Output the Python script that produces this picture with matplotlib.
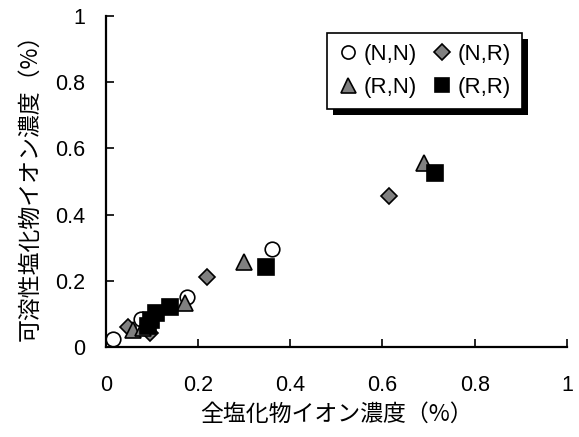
import matplotlib
matplotlib.use("Agg")
import matplotlib.pyplot as plt
from matplotlib.patches import Rectangle

plt.rcParams['font.family'] = ['Liberation Sans', 'Noto Sans CJK JP', 'DejaVu Sans']

# total chloride (x) vs. soluble chloride (y), % by mass
nn_x = [0.015, 0.075, 0.175, 0.36]
nn_y = [0.025, 0.085, 0.150, 0.295]

nr_x = [0.048, 0.095, 0.220, 0.615]
nr_y = [0.060, 0.042, 0.212, 0.455]

rn_x = [0.059, 0.080, 0.171, 0.300, 0.690]
rn_y = [0.051, 0.057, 0.133, 0.257, 0.556]

rr_x = [0.091, 0.098, 0.108, 0.138, 0.347, 0.714]
rr_y = [0.063, 0.082, 0.103, 0.121, 0.242, 0.526]

labels = ['(N,N)', '(N,R)', '(R,N)', '(R,R)']
ticks = [0, 0.2, 0.4, 0.6, 0.8, 1]
tick_labels = ['0', '0.2', '0.4', '0.6', '0.8', '1']

fig = plt.figure(figsize=(5.79, 4.37), dpi=100)
ax = fig.add_axes([0.183, 0.206, 0.796, 0.757])

gray = '#808080'
kw = dict(linestyle='none', markeredgecolor='black', markeredgewidth=1.2, clip_on=False)
h_nn, = ax.plot(nn_x, nn_y, 'o', markersize=10.5, markerfacecolor='white', label=labels[0], **kw)
h_nr, = ax.plot(nr_x, nr_y, 'D', markersize=8.5, markerfacecolor=gray, label=labels[1], **kw)
h_rn, = ax.plot(rn_x, rn_y, '^', markersize=12, markerfacecolor=gray, label=labels[2], **kw)
h_rr, = ax.plot(rr_x, rr_y, 's', markersize=11, markerfacecolor='black', label=labels[3], **kw)

ax.set_xlim(0, 1)
ax.set_ylim(0, 1)
ax.set_xticks(ticks)
ax.set_yticks(ticks)
ax.set_xticklabels(tick_labels)
ax.set_yticklabels(tick_labels)
ax.tick_params(direction='in', length=6, width=1.2, labelsize=15.5)
ax.tick_params(axis='x', pad=20)
ax.tick_params(axis='y', pad=15)
for s in ['top', 'right']:
    ax.spines[s].set_visible(False)
for s in ['left', 'bottom']:
    ax.spines[s].set_linewidth(1.6)

cjk = ['Noto Sans CJK JP', 'DejaVu Sans']
ax.set_xlabel('全塩化物イオン濃度（%）', fontsize=16.5, family=cjk, labelpad=5)
ax.set_ylabel('可溶性塩化物イオン濃度（%）', fontsize=16.5, family=cjk, labelpad=10)

leg = ax.legend(handles=[h_nn, h_rn, h_nr, h_rr], ncol=2,
                loc='upper left', bbox_to_anchor=(0.479, 0.95),
                fontsize=16, frameon=True, fancybox=False,
                edgecolor='black', framealpha=1, markerscale=0.9,
                handlelength=0.9, handletextpad=0.25, columnspacing=0.7,
                borderpad=0.5, labelspacing=0.55, borderaxespad=0)
leg.get_frame().set_linewidth(1.2)
leg.set_zorder(6)

# drop shadow behind the legend box
fig.canvas.draw()
bb = leg.get_window_extent().transformed(fig.transFigure.inverted())
dx, dy = 6 / fig.bbox.width, 6 / fig.bbox.height
ax.add_patch(Rectangle((bb.x0 + dx, bb.y0 - dy), bb.width, bb.height,
                       transform=fig.transFigure, facecolor='black',
                       edgecolor='none', zorder=5, clip_on=False))

fig.savefig('out.png', dpi=100)
